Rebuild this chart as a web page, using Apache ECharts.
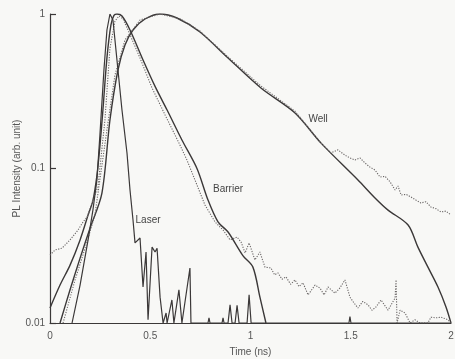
<!DOCTYPE html>
<html>
<head>
<meta charset="utf-8">
<script src="https://cdn.jsdelivr.net/npm/echarts@6/dist/echarts.min.js"></script>
<style>
  html, body { margin: 0; padding: 0; background: #f8f8f6; }
  #chart { width: 455px; height: 359px; }
</style>
</head>
<body>
<div id="chart"></div>
<script>
// time (ns), PL intensity (arb. unit)
const laser = [
  [0.11, 0.01], [0.15, 0.0176], [0.19, 0.0345], [0.214, 0.0538], [0.234, 0.0843],
  [0.249, 0.165], [0.269, 0.434], [0.284, 0.788], [0.299, 1.0], [0.314, 0.915],
  [0.339, 0.434], [0.359, 0.239], [0.384, 0.126], [0.399, 0.0726], [0.414, 0.0464],
  [0.424, 0.033], [0.449, 0.0355], [0.464, 0.0171], [0.479, 0.0288], [0.489, 0.0105],
  [0.509, 0.031], [0.524, 0.0288], [0.534, 0.0305], [0.549, 0.0147], [0.564, 0.01],
  [0.579, 0.0116], [0.584, 0.01], [0.608, 0.0141], [0.618, 0.01], [0.643, 0.0164],
  [0.658, 0.01], [0.698, 0.0227], [0.703, 0.01], [0.788, 0.01], [0.793, 0.0108],
  [0.798, 0.01], [0.858, 0.01], [0.863, 0.0108], [0.868, 0.01], [0.888, 0.01],
  [0.898, 0.0131], [0.908, 0.01], [0.923, 0.01], [0.933, 0.013], [0.943, 0.01],
  [0.983, 0.01], [0.993, 0.0152], [1.003, 0.01], [1.491, 0.01], [1.496, 0.011],
  [1.501, 0.01], [2.0, 0.01]
];

const barrierFit = [
  [0, 0.0125], [0.05, 0.0176], [0.1, 0.0237], [0.15, 0.0345], [0.19, 0.05],
  [0.214, 0.062], [0.234, 0.09], [0.249, 0.14], [0.264, 0.24], [0.284, 0.52],
  [0.304, 0.85], [0.319, 0.98], [0.334, 1.0], [0.359, 0.97], [0.399, 0.788],
  [0.464, 0.504], [0.524, 0.34], [0.584, 0.239], [0.658, 0.153], [0.733, 0.1],
  [0.788, 0.0625], [0.838, 0.0451], [0.888, 0.0388], [0.963, 0.0272], [1.012, 0.023],
  [1.047, 0.0147], [1.077, 0.01]
];

const barrierData = [
  [0, 0.0275], [0.025, 0.0297], [0.06, 0.0305], [0.1, 0.0345], [0.14, 0.04],
  [0.165, 0.0451], [0.185, 0.0485], [0.209, 0.0598], [0.239, 0.076], [0.274, 0.206],
  [0.299, 0.6], [0.324, 0.9], [0.344, 0.97], [0.364, 0.93], [0.389, 0.788],
  [0.449, 0.519], [0.509, 0.332], [0.574, 0.222], [0.648, 0.142], [0.683, 0.1135],
  [0.723, 0.0843], [0.773, 0.058], [0.823, 0.0451], [0.863, 0.04], [0.898, 0.0345],
  [0.933, 0.036], [0.953, 0.0334], [0.973, 0.0284], [0.993, 0.033], [1.022, 0.0256],
  [1.047, 0.0288], [1.072, 0.023], [1.102, 0.0227], [1.12, 0.0205], [1.137, 0.0211],
  [1.157, 0.0192], [1.177, 0.0199], [1.2, 0.0178], [1.222, 0.019], [1.242, 0.0172],
  [1.262, 0.0182], [1.287, 0.0152], [1.322, 0.0176], [1.347, 0.0168], [1.367, 0.0152],
  [1.387, 0.0171], [1.421, 0.0156], [1.445, 0.0168], [1.471, 0.019], [1.496, 0.0147],
  [1.516, 0.0135], [1.536, 0.0125], [1.56, 0.0138], [1.586, 0.0131], [1.606, 0.0121],
  [1.626, 0.0127], [1.651, 0.0141], [1.686, 0.0121], [1.721, 0.0145], [1.726, 0.019],
  [1.731, 0.01], [1.746, 0.0121], [1.771, 0.0116], [1.796, 0.01], [1.82, 0.0105],
  [1.845, 0.01], [1.885, 0.01], [1.9, 0.0109], [1.925, 0.0108], [1.95, 0.0109],
  [1.985, 0.0105], [2.0, 0.01]
];

const wellFit = [
  [0.05, 0.01], [0.1, 0.0164], [0.15, 0.0263], [0.2, 0.0412], [0.259, 0.0694],
  [0.299, 0.206], [0.339, 0.434], [0.374, 0.63], [0.414, 0.788], [0.474, 0.928],
  [0.549, 1.0], [0.633, 0.942], [0.748, 0.765], [0.888, 0.519], [1.052, 0.332],
  [1.222, 0.229], [1.352, 0.146], [1.536, 0.0843], [1.621, 0.0645], [1.686, 0.0538],
  [1.786, 0.0431], [1.835, 0.031], [1.885, 0.023], [1.935, 0.0171], [1.975, 0.0127],
  [2.0, 0.01]
];

const wellData = [
  [0.065, 0.01], [0.125, 0.019], [0.175, 0.0305], [0.224, 0.05], [0.284, 0.178],
  [0.324, 0.403], [0.374, 0.679], [0.449, 0.915], [0.549, 1.0], [0.65, 0.93],
  [0.748, 0.776], [0.888, 0.527], [1.052, 0.342], [1.222, 0.235], [1.352, 0.146],
  [1.401, 0.126], [1.436, 0.132], [1.471, 0.122], [1.496, 0.117], [1.521, 0.1135],
  [1.546, 0.117], [1.571, 0.1086], [1.596, 0.102], [1.621, 0.0978], [1.646, 0.0881],
  [1.671, 0.089], [1.696, 0.082], [1.721, 0.0726], [1.736, 0.077], [1.751, 0.0674],
  [1.776, 0.068], [1.8, 0.0654], [1.825, 0.0625], [1.85, 0.0598], [1.875, 0.061],
  [1.9, 0.0563], [1.925, 0.055], [1.95, 0.0523], [1.975, 0.053], [2.0, 0.05]
];

const labels = [
  { name: 'Laser', coord: [0.489, 0.0464] },
  { name: 'Barrier', coord: [0.888, 0.0737] },
  { name: 'Well', coord: [1.337, 0.209] }
];

const ink = '#3b3838';
const textColor = '#555';
const font = 'Liberation Sans';

const chart = echarts.init(document.getElementById('chart'));

const solid = (name, data, width, smooth) => ({
  name, type: 'line', data, smooth,
  symbol: 'none',
  lineStyle: { color: ink, width },
  animation: false
});
const dotted = (name, data) => ({
  name, type: 'line', data,
  symbol: 'none',
  lineStyle: { color: '#6a6666', width: 1.1, type: [1.2, 1.4] },
  animation: false
});

chart.setOption({
  backgroundColor: '#f8f8f6',
  textStyle: { fontFamily: font },
  grid: { left: 50, right: 4, top: 14, bottom: 36, outerBoundsMode: 'none' },
  xAxis: {
    type: 'value',
    min: 0, max: 2, interval: 0.5,
    name: 'Time (ns)',
    nameLocation: 'middle',
    nameGap: 24,
    nameTextStyle: { color: textColor, fontSize: 10, fontFamily: font },
    axisLine: { lineStyle: { color: ink, width: 1.2 } },
    axisTick: { show: false },
    splitLine: { show: false },
    axisLabel: { color: textColor, fontSize: 10, margin: 8, formatter: v => String(v) }
  },
  yAxis: {
    type: 'log',
    logBase: 10,
    min: 0.01, max: 1,
    name: 'PL Intensity (arb. unit)',
    nameLocation: 'middle',
    nameRotate: 90,
    nameGap: 28,
    nameMoveOverlap: false,
    nameTextStyle: { color: textColor, fontSize: 10, fontFamily: font },
    axisLine: { lineStyle: { color: ink, width: 1.2 } },
    axisTick: { inside: true, length: 6, lineStyle: { color: ink, width: 1.2 } },
    splitLine: { show: false },
    minorTick: { show: false },
    axisLabel: { color: textColor, fontSize: 10, margin: 5, formatter: v => String(v) }
  },
  series: [
    solid('Well fit', wellFit, 1.4, 0.3),
    dotted('Well data', wellData),
    solid('Barrier fit', barrierFit, 1.4, 0.3),
    dotted('Barrier data', barrierData),
    Object.assign(solid('Laser', laser, 1.2, false), {
      markPoint: {
        symbol: 'circle',
        symbolSize: 0,
        silent: true,
        label: {
          show: true,
          position: 'inside',
          color: '#444',
          fontSize: 10,
          fontFamily: font,
          formatter: p => p.name
        },
        data: labels.map(l => ({ name: l.name, coord: l.coord }))
      }
    })
  ]
});
</script>
</body>
</html>
